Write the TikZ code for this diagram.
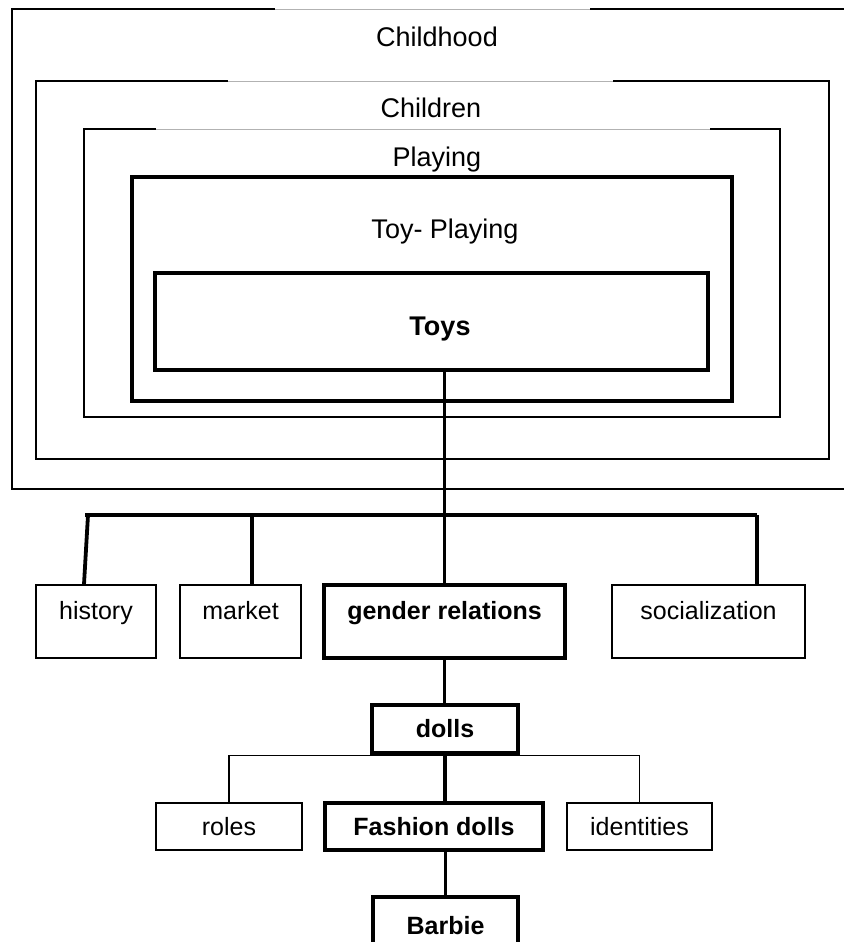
\documentclass[tikz,border=0pt]{standalone}
\usepackage{fontspec}
\setmainfont{Liberation Sans}
\begin{document}
\begin{tikzpicture}[x=1pt,y=-1pt,
  thinln/.style={line width=1.6pt},
  thickln/.style={line width=3.2pt},
  busln/.style={line width=3.8pt},
  gapln/.style={line width=0.8pt, draw=black!30},
  framelbl/.style={font=\fontsize{27}{30}\selectfont, inner sep=0pt, anchor=base},
  rowbox/.style={draw, thinln, minimum width=#1pt, inner xsep=0pt, inner ysep=0pt,
     text height=34.5pt, text depth=38.5pt, font=\fontsize{25}{28}\selectfont},
  smallbox/.style={draw, thinln, minimum width=#1pt, minimum height=47pt, inner sep=0pt,
     font=\fontsize{25}{28}\selectfont},
  boldbox/.style={draw, thickln, minimum width=#1pt, inner sep=0pt,
     font=\bfseries\fontsize{25}{28}\selectfont}
]
\useasboundingbox (0,0) rectangle (843,942);

% Childhood frame
\draw[thinln] (275,9) -- (12,9) -- (12,489) -- (850,489);
\draw[thinln] (590,9) -- (850,9);
\draw[gapln] (275,9) -- (590,9);
\node[framelbl] (childhood) at (437,47) {Childhood};

% Children frame
\draw[thinln] (228,81) -- (36,81) -- (36,459) -- (829,459) -- (829,81) -- (613,81);
\draw[gapln] (228,81) -- (613,81);
\node[framelbl] (children) at (431,117) {Children};

% Playing frame
\draw[thinln] (156,129) -- (84,129) -- (84,417) -- (780,417) -- (780,129) -- (710,129);
\draw[gapln] (156,129) -- (710,129);
\node[framelbl] (playing) at (437,166) {Playing};

% Toy-Playing frame
\draw[thickln] (132,177) rectangle (732,401);
\node[framelbl] (toyplaying) at (445,238) {Toy- Playing};

% Toys
\node[draw, thickln, minimum width=553pt, inner xsep=0pt, inner ysep=0pt,
      text height=62pt, text depth=35pt,
      font=\bfseries\fontsize{27}{30}\selectfont] (toys) at (431.5,321.5) {\hspace*{17pt}Toys};

% row boxes
\node[rowbox=120] (history) at (96,621.5) {history};
\node[rowbox=121] (market) at (240.5,621.5) {market};
\node[rowbox=241, thickln, font=\bfseries\fontsize{25}{28}\selectfont] (gender) at (444.5,621.5) {gender relations};
\node[rowbox=193] (social) at (708.5,621.5) {socialization};

% lower boxes
\node[boldbox=146, minimum height=48pt] (dolls) at (445,729) {dolls};
\node[smallbox=146] (roles) at (229,826.5) {roles};
\node[boldbox=218, minimum height=47pt] (fashion) at (434,826.5) {Fashion dolls};
\node[smallbox=145] (ident) at (639.5,826.5) {identities};
\node[boldbox=145, text height=37pt, text depth=26pt] (barbie) at (445.5,928.5) {Barbie};

% bus
\coordinate (busL) at (85,515);
\coordinate (busR) at (757,515);
\coordinate (histtop) at ([xshift=-12pt]history.north);
\coordinate (mkttop) at ([xshift=11.5pt]market.north);
\draw[busln] (busL) -- (busR);
\draw[busln] (toys.south -| gender.north) -- (gender.north);
\draw[busln] ([xshift=3pt]busL) -- (histtop);
\draw[busln] (busL -| mkttop) -- (mkttop);
\draw[busln] (busR) -- (busR |- social.north);

% lower connectors
\draw[busln] (gender.south) -- (gender.south |- dolls.north);
\draw[thinln] (roles.north) |- ([yshift=-1pt]dolls.south) -| (ident.north);
\draw[busln] (dolls.south) -- (dolls.south |- fashion.north);
\draw[busln] (barbie.north |- fashion.south) -- (barbie.north);
\end{tikzpicture}
\end{document}
